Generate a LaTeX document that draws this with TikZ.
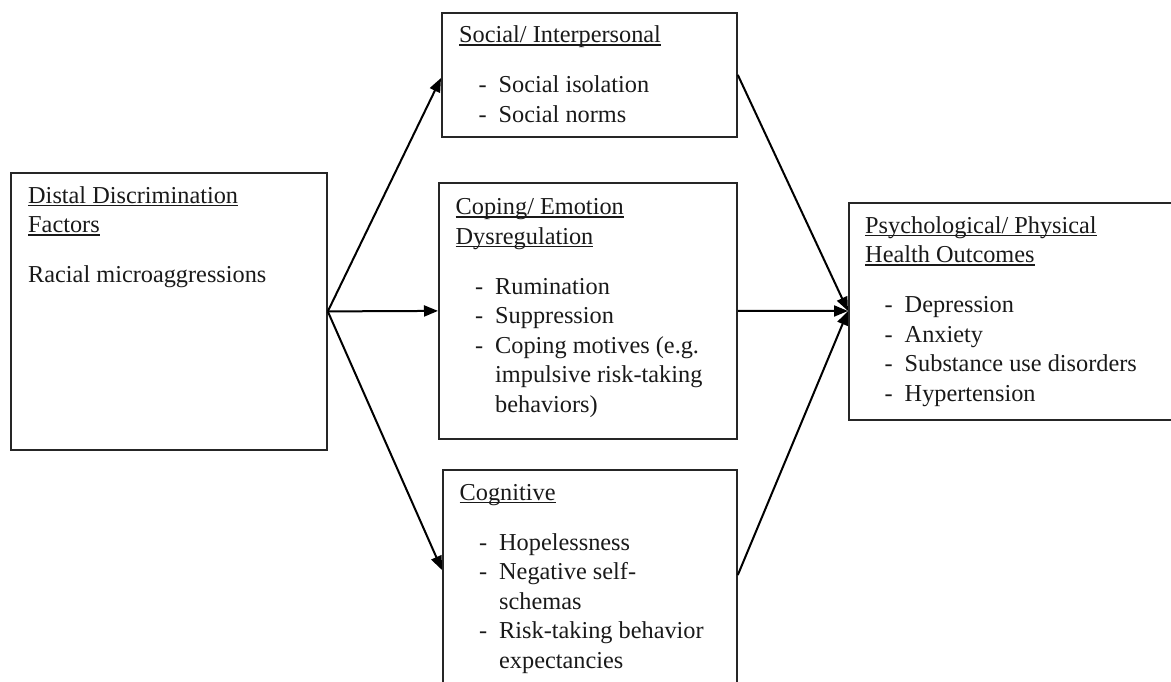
\documentclass[tikz,border=0pt]{standalone}
\usepackage{fontspec}
\setmainfont{Liberation Serif}
\usetikzlibrary{arrows.meta,calc}
\newcommand{\hul}[1]{\setbox0=\hbox{#1}\rlap{\rule[-3pt]{\wd0}{1.3pt}}\box0}
\newcommand{\itm}[1]{\makebox[39.5pt][l]{\hspace{19.5pt}-}#1}
\newcommand{\cnt}[1]{\hspace*{39.5pt}#1}
\begin{document}
\begin{tikzpicture}[x=1pt,y=-1pt,
  box/.style={draw=black!85, line width=1.8pt, rectangle, inner sep=0pt, anchor=north west},
  txt/.style={anchor=base west, inner sep=0pt, text=black!90, font=\fontsize{24.3}{29.5}\selectfont},
  arr/.style={line width=2pt, -{Triangle[length=14pt,width=11pt]}}]
\useasboundingbox (0,0) rectangle (1171,681);
\clip (0,0) rectangle (1171,681);
% boxes
\node[box, minimum width=316pt, minimum height=277pt] (dist) at (10,172) {};
\node[box, minimum width=295pt, minimum height=124pt] (soc) at (441,12) {};
\node[box, minimum width=298pt, minimum height=256pt] (cop) at (438,182) {};
\node[box, minimum width=360pt, minimum height=217pt] (psy) at (848,202) {};
\node[box, minimum width=294pt, minimum height=300pt] (cog) at (442,469) {};
% texts
\node[txt] (distt) at (28,203) {\begin{tabular}[t]{@{}l@{}}
\hul{Distal Discrimination}\\
\hul{Factors}\\[20.5pt]
Racial microaggressions
\end{tabular}};
\node[txt] (soct) at (459,42.7) {\begin{tabular}[t]{@{}l@{}}
\hul{Social/ Interpersonal}\\[20.5pt]
\itm{Social isolation}\\
\itm{Social norms}
\end{tabular}};
\node[txt] (copt) at (455.5,214.5) {\begin{tabular}[t]{@{}l@{}}
\hul{Coping/ Emotion}\\
\hul{Dysregulation}\\[20.5pt]
\itm{Rumination}\\
\itm{Suppression}\\
\itm{Coping motives (e.g.}\\
\cnt{impulsive risk-taking}\\
\cnt{behaviors)}
\end{tabular}};
\node[txt] (psyt) at (865,233) {\begin{tabular}[t]{@{}l@{}}
\hul{Psychological/ Physical}\\
\hul{Health Outcomes}\\[20.5pt]
\itm{Depression}\\
\itm{Anxiety}\\
\itm{Substance use disorders}\\
\itm{Hypertension}
\end{tabular}};
\node[txt] (cogt) at (459.5,500) {\begin{tabular}[t]{@{}l@{}}
\hul{Cognitive}\\[20.5pt]
\itm{Hopelessness}\\
\itm{Negative self-}\\
\cnt{schemas}\\
\itm{Risk-taking behavior}\\
\cnt{expectancies}
\end{tabular}};
% connector points
\coordinate (socin) at ($(soc.north west)+(0,66)$);
\coordinate (cogin) at ($(cog.north west)+(0,101)$);
\coordinate (cogout) at ($(cog.north east)+(0,106)$);
\coordinate (psyin) at ($(psy.north west)+(0,109)$);
% arrows
\draw[arr] (dist.east) -- (socin);
\draw[arr] (dist.east) -- (cop.west);
\draw[arr] (dist.east) -- (cogin);
\draw[arr] (soc.east) -- (psyin);
\draw[arr] (cop.east) -- (psyin);
\draw[arr] (cogout) -- (psyin);
\end{tikzpicture}
\end{document}
